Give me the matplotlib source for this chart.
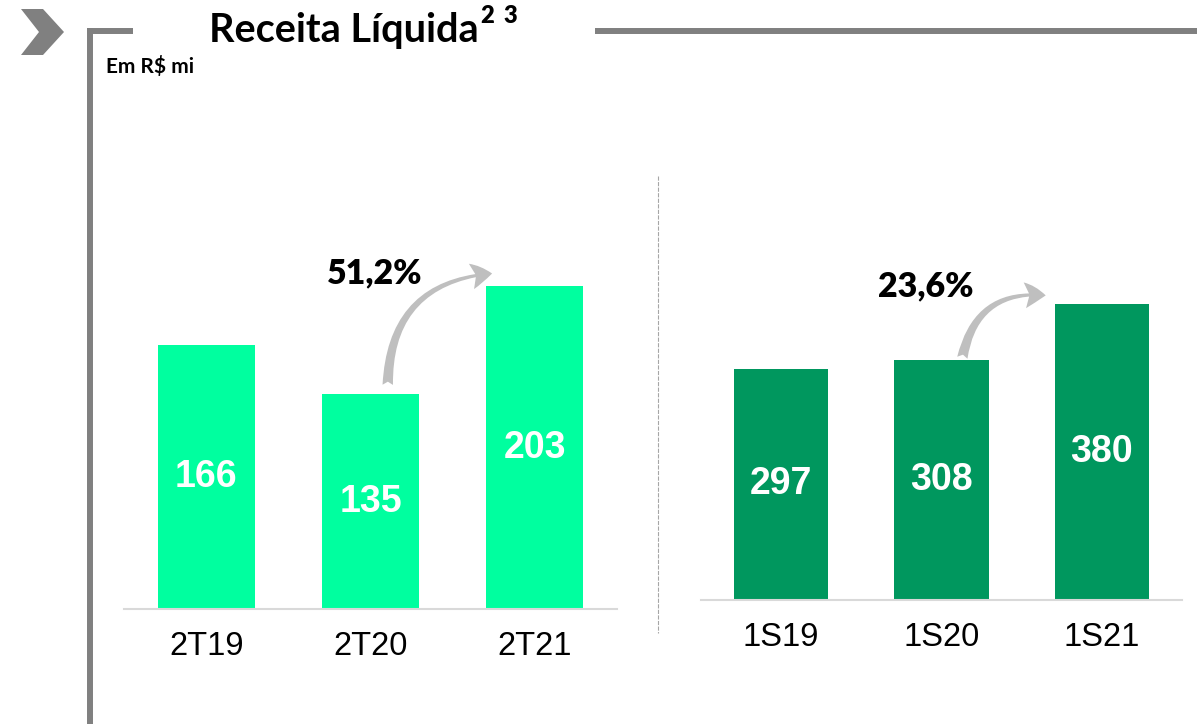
import matplotlib
matplotlib.use("Agg")
import matplotlib.pyplot as plt
from matplotlib.patches import Polygon
from matplotlib.lines import Line2D

W, H = 1197, 724

# dados
tri_labels = ["2T19", "2T20", "2T21"]
tri_values = [166, 135, 203]
sem_labels = ["1S19", "1S20", "1S21"]
sem_values = [297, 308, 380]
tri_growth = "51,2%"
sem_growth = "23,6%"

plt.rcParams['lines.scale_dashes'] = False


def px(x, y):
    # pixel (a partir do topo) -> fracao da figura
    return x / W, 1 - y / H


def axes_px(x0, x1, ybot, ytop):
    return [x0 / W, 1 - ybot / H, (x1 - x0) / W, (ybot - ytop) / H]


fig = plt.figure(figsize=(W / 100, H / 100), dpi=100)

# moldura e seta do titulo
fig.add_artist(Polygon([px(21, 9), px(43, 9), px(64, 32), px(43, 55), px(21, 55), px(39, 32)],
                       closed=True, transform=fig.transFigure, color="#808080", lw=0))
gray = "#808080"
fig.add_artist(Line2D([90 / W, 90 / W], [px(0, 28)[1], 0], transform=fig.transFigure,
                      color=gray, lw=4.3, solid_capstyle="butt"))
fig.add_artist(Line2D([87 / W, 133 / W], [px(0, 30.5)[1]] * 2, transform=fig.transFigure,
                      color=gray, lw=4.3, solid_capstyle="butt"))
fig.add_artist(Line2D([595 / W, 1], [px(0, 31)[1]] * 2, transform=fig.transFigure,
                      color=gray, lw=4.3, solid_capstyle="butt"))
# separador
fig.add_artist(Line2D([658 / W] * 2, [px(0, 176)[1], px(0, 633)[1]], transform=fig.transFigure,
                      color="#A6A6A6", lw=0.8, dashes=(3, 1)))

fig.text(*px(209, 42), "Receita Líquida", fontsize=28.5, fontweight="bold",
         family="Lato", ha="left", va="baseline")
fig.text(*px(480, 23), "2", fontsize=17, fontweight="heavy",
         family="Lato", ha="left", va="baseline")
fig.text(*px(503, 23), "3", fontsize=17, fontweight="heavy",
         family="Lato", ha="left", va="baseline")
fig.text(*px(106, 73), "Em R$ mi", fontsize=15, fontweight="bold",
         family="Lato", ha="left", va="baseline")


def draw(ax, labels, values, color, ymax, growth, txt_xy, tail, head):
    x = range(len(values))
    bars = ax.bar(x, values, width=0.59, color=color)
    for b, v in zip(bars, values):
        ax.text(b.get_x() + b.get_width() / 2, v / 2, str(v), ha="center", va="center",
                color="white", fontsize=27, fontweight="bold", family="Liberation Sans")
    ax.set_xlim(-0.5, 2.5)
    ax.set_ylim(0, ymax)
    ax.set_xticks(list(x))
    ax.set_xticklabels(labels, fontsize=23.5, family="Liberation Sans")
    ax.tick_params(axis="x", length=0, pad=16)
    ax.set_yticks([])
    for s in ["top", "left", "right"]:
        ax.spines[s].set_visible(False)
    ax.spines["bottom"].set_color("#D9D9D9")
    ax.spines["bottom"].set_linewidth(1.5)
    ax.patch.set_alpha(0)
    ax.text(*txt_xy, growth, ha="center", va="center", fontsize=24.5, fontweight="heavy",
            family="Lato")
    ax.annotate("", xy=head, xytext=tail, annotation_clip=False,
                arrowprops=dict(arrowstyle="fancy,head_length=0.5,head_width=0.62,tail_width=0.25",
                                connectionstyle="arc3,rad=-0.45", color="#BFBFBF",
                                shrinkA=0, shrinkB=0, mutation_scale=30, lw=0))


ax1 = fig.add_axes(axes_px(124, 617, 609, 100))
draw(ax1, tri_labels, tri_values, "#00FF9F", 509 / 1.59, tri_growth,
     (1.025, 211), (1.105, 141), (1.74, 211))

ax2 = fig.add_axes(axes_px(701, 1182, 600, 100))
draw(ax2, sem_labels, sem_values, "#00975E", 500 / 0.779, sem_growth,
     (0.9, 403), (1.13, 311), (1.65, 391))

fig.savefig("out.png", dpi=100)
